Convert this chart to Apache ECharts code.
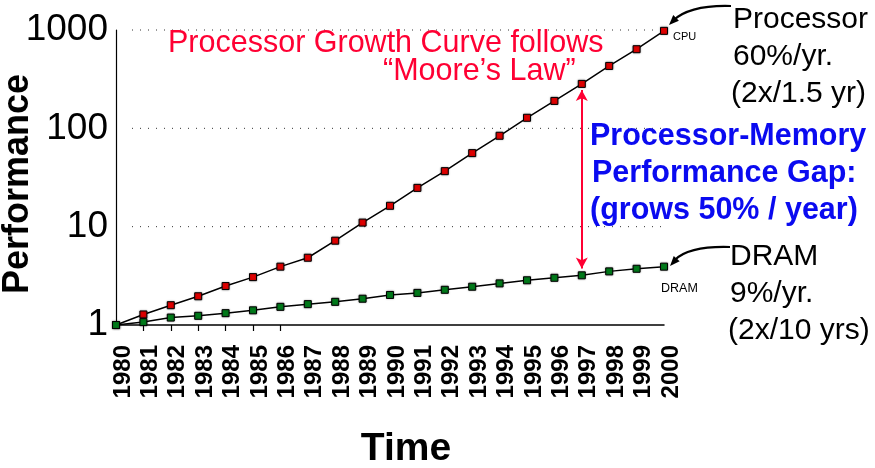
<!DOCTYPE html>
<html><head><meta charset="utf-8">
<script src="https://cdn.jsdelivr.net/npm/echarts@6/dist/echarts.min.js"></script>
<style>html,body{margin:0;padding:0;background:#fff}#c{width:875px;height:468px}</style>
</head><body><div id="c"></div>
<script>
var years = ['1980','1981','1982','1983','1984','1985','1986','1987','1988','1989','1990','1991','1992','1993','1994','1995','1996','1997','1998','1999','2000'];
var cpu = [1, 1.28, 1.59, 1.96, 2.49, 3.07, 3.92, 4.83, 7.2, 11, 16.3, 24.8, 36.7, 56, 84, 128, 190, 283, 431, 638, 980];
var dram = [1, 1.07, 1.19, 1.24, 1.32, 1.41, 1.53, 1.63, 1.72, 1.85, 2.02, 2.12, 2.28, 2.45, 2.65, 2.85, 3.02, 3.2, 3.51, 3.73, 3.92];
var gridValues = [10, 100, 1000];
var gapYear = '1997';
var gapTop = 245, gapBottom = 3.75;

var F = '"Liberation Sans", Arial, sans-serif';
var chart = echarts.init(document.getElementById('c'), null, {renderer:'canvas'});
function mk(color){
  return {
    symbol:'rect', symbolSize:7,
    itemStyle:{color:color, borderColor:'#000', borderWidth:1, shadowColor:'rgba(0,0,0,0.35)', shadowBlur:2},
    lineStyle:{color:'#000', width:1.5}
  };
}
function arrowHead(tx,ty,dx,dy,len,w){
  var n=Math.sqrt(dx*dx+dy*dy); dx/=n; dy/=n;
  var bx=tx-dx*len, by=ty-dy*len, px=-dy*w/2, py=dx*w/2;
  return {type:'polygon', shape:{points:[[tx,ty],[bx+px,by+py],[bx-px,by-py]]}, style:{fill:'#000'}};
}
function txt(s,x,y,font,fill,align){
  return {type:'text', style:{text:s, x:x, y:y, font:font, fill:fill, align:align||'left', verticalAlign:'middle'}};
}
var cpuS = Object.assign({type:'line', name:'CPU', data:cpu, animation:false,
  markLine:{silent:true, symbol:['arrow','arrow'], symbolSize:[9,11], animation:false,
    lineStyle:{color:'#ff0033', width:2, type:'solid'}, label:{show:false},
    data:[[{xAxis:gapYear, yAxis:gapTop},{xAxis:gapYear, yAxis:gapBottom}]]}
}, mk('#e00000'));
var dramS = Object.assign({type:'line', name:'DRAM', data:dram, animation:false}, mk('#007a1a'));

chart.setOption({
  animation:false,
  grid:{left:116, right:211, top:30, bottom:143, containLabel:false},
  xAxis:{type:'category', data:years, boundaryGap:false,
    axisLine:{lineStyle:{color:'#000', width:1.5}},
    axisTick:{show:true, interval:function(i){return i>=1&&i<=6;}, length:6, lineStyle:{color:'#000', width:1.2}},
    axisLabel:{rotate:90, interval:0, margin:20, color:'#000', fontFamily:F, fontWeight:'bold', fontSize:24, verticalAlign:'top', lineHeight:14},
    splitLine:{show:false}
  },
  yAxis:{type:'log', logBase:10, min:1, max:1000,
    axisLine:{show:true, lineStyle:{color:'#000', width:1.2}},
    axisTick:{show:false},
    axisLabel:{color:'#000', fontFamily:F, fontSize:37, margin:8, formatter:function(v){return String(Math.round(v));}},
    splitLine:{show:false}
  },
  series:[cpuS, dramS],
  graphic:[
    {type:'text', rotation:Math.PI/2, x:18, y:184, style:{text:'Performance', font:'bold 36px '+F, fill:'#000', align:'center', verticalAlign:'middle'}},
    txt('Time', 406, 449, 'bold 39px '+F, '#000', 'center'),
    txt('Processor Growth Curve follows', 168, 44, '30.5px '+F, '#ff0033'),
    txt('\u201cMoore\u2019s Law\u201d', 383, 72, '30.5px '+F, '#ff0033'),
    txt('Processor-Memory', 590, 137, 'bold 30.5px '+F, '#0a0af0'),
    txt('Performance Gap:', 592, 174, 'bold 30.5px '+F, '#0a0af0'),
    txt('(grows 50% / year)', 590, 211, 'bold 30.5px '+F, '#0a0af0'),
    txt('Processor', 733, 20, '30px '+F, '#000'),
    txt('60%/yr.', 733, 57, '30px '+F, '#000'),
    txt('(2x/1.5 yr)', 731, 94, '30px '+F, '#000'),
    txt('DRAM', 730, 257, '30px '+F, '#000'),
    txt('9%/yr.', 730, 294, '30px '+F, '#000'),
    txt('(2x/10 yrs)', 728, 331, '30px '+F, '#000'),
    txt('CPU', 673, 37, '11px '+F, '#000'),
    txt('DRAM', 661, 289, '12.5px '+F, '#000'),
    {type:'bezierCurve', shape:{x1:731, y1:6, cpx1:700, cpy1:5, cpx2:682, cpy2:12, x2:674, y2:20}, style:{stroke:'#000', lineWidth:2.2, fill:null}},
    arrowHead(669,25,-1,1,10,8),
    {type:'bezierCurve', shape:{x1:730, y1:247, cpx1:700, cpy1:246, cpx2:682, cpy2:252, x2:675, y2:260}, style:{stroke:'#000', lineWidth:2.2, fill:null}},
    arrowHead(670,266,-1,1.1,10,8)
  ]
});
// dotted grid lines at the decade values, placed through the axis scale, starting a little right of the y axis
var extra = [];
gridValues.forEach(function(v){
  var pL = chart.convertToPixel({gridIndex:0}, [0, v]);
  var pR = chart.convertToPixel({gridIndex:0}, [years.length-1, v]);
  extra.push({type:'line', z:-1, shape:{x1:pL[0]+16, y1:pL[1], x2:pR[0], y2:pR[1]}, style:{stroke:'#333', lineWidth:1, lineDash:[1,7]}});
});
chart.setOption({graphic: chart.getOption().graphic[0].elements.concat(extra)});
</script></body></html>
